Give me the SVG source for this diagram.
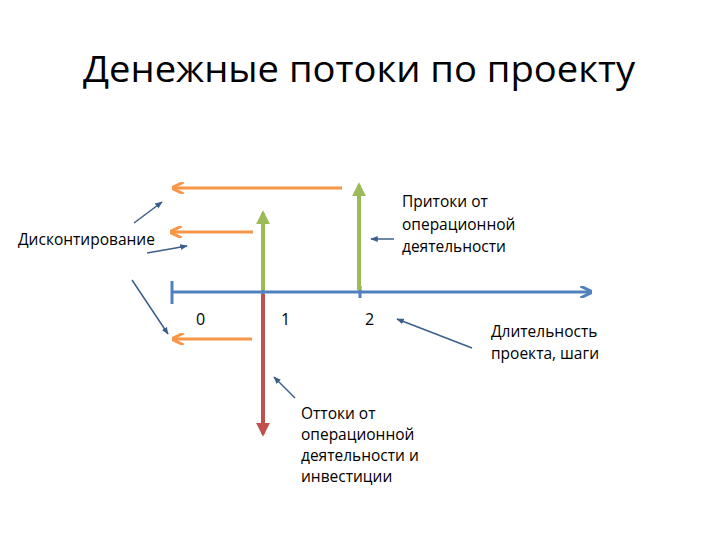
<svg xmlns="http://www.w3.org/2000/svg" width="720" height="540" viewBox="0 0 720 540">
<defs>
<style>
.t{font-family:"Open Sans","Liberation Sans",sans-serif;fill:#000}
.lbl{font-size:15.5px}
.o{stroke:#F79646;stroke-width:3;fill:none}
.g{stroke:#9BBB59;stroke-width:4;fill:none}
.r{stroke:#C0504D;stroke-width:4;fill:none}
.b{stroke:#4F81BD;stroke-width:3;fill:none}
.p{stroke:#3B5F8A;stroke-width:1.5;fill:none}
</style>
<marker id="ao" viewBox="0 0 10 10" refX="8" refY="5" markerWidth="4" markerHeight="4" orient="auto" markerUnits="strokeWidth"><path d="M0,0 L10,5 L0,10" fill="none" stroke="#F79646" stroke-width="2.5"/></marker>
<marker id="ag" viewBox="0 0 10 10" refX="8" refY="5" markerWidth="3.5" markerHeight="3.5" orient="auto" markerUnits="strokeWidth"><path d="M0,0 L10,5 L0,10 Z" fill="#9BBB59"/></marker>
<marker id="ar" viewBox="0 0 10 10" refX="8" refY="5" markerWidth="3.5" markerHeight="3.5" orient="auto" markerUnits="strokeWidth"><path d="M0,0 L10,5 L0,10 Z" fill="#C0504D"/></marker>
<marker id="ab" viewBox="0 0 10 10" refX="8" refY="5" markerWidth="4" markerHeight="4" orient="auto" markerUnits="strokeWidth"><path d="M0,0 L10,5 L0,10" fill="none" stroke="#4F81BD" stroke-width="2.5"/></marker>
<marker id="ap" viewBox="0 0 10 10" refX="9" refY="5" markerWidth="5" markerHeight="5" orient="auto" markerUnits="strokeWidth"><path d="M0,1 L10,5 L0,9 Z" fill="#3B5F8A"/></marker>
</defs>
<rect width="720" height="540" fill="#fff"/>
<text class="t" x="359" y="82" font-size="37" text-anchor="middle" textLength="552" lengthAdjust="spacingAndGlyphs">Денежные потоки по проекту</text>
<g id="connectors">
<line class="o" x1="342" y1="188" x2="174" y2="188" marker-end="url(#ao)"/>
<line class="o" x1="253" y1="232" x2="172" y2="232" marker-end="url(#ao)"/>
<line class="o" x1="252" y1="339" x2="174" y2="339" marker-end="url(#ao)"/>
<line class="b" x1="172" y1="292" x2="590" y2="292" marker-end="url(#ab)"/>
<line class="b" x1="172" y1="281" x2="172" y2="304"/>
<line class="b" x1="263" y1="286" x2="263" y2="298"/>
<line class="b" x1="360" y1="286" x2="360" y2="298"/>
<line class="g" x1="263" y1="290" x2="263" y2="213" marker-end="url(#ag)"/>
<line class="g" x1="359" y1="290" x2="359" y2="185" marker-end="url(#ag)"/>
<line class="r" x1="263" y1="294" x2="263" y2="434" marker-end="url(#ar)"/>
<line class="p" x1="134" y1="223" x2="162" y2="202" marker-end="url(#ap)"/>
<line class="p" x1="147" y1="253" x2="187" y2="246" marker-end="url(#ap)"/>
<line class="p" x1="132" y1="280" x2="168" y2="334" marker-end="url(#ap)"/>
<line class="p" x1="394" y1="239" x2="371" y2="239" marker-end="url(#ap)"/>
<line class="p" x1="472" y1="348" x2="397" y2="319" marker-end="url(#ap)"/>
<line class="p" x1="295" y1="398" x2="274" y2="377" marker-end="url(#ap)"/>
</g>
<g id="discount"><text class="t lbl" x="18" y="245">Дисконтирование</text></g>
<g id="inflows"><text class="t lbl" x="402" y="207">Притоки от<tspan x="402" dy="22.5">операционной</tspan><tspan x="402" dy="22.5">деятельности</tspan></text></g>
<g id="ticks">
<text class="t" x="196" y="325" font-size="16">0</text>
<text class="t" x="281" y="325" font-size="16">1</text>
<text class="t" x="365" y="325" font-size="16">2</text>
</g>
<g id="duration"><text class="t lbl" x="491" y="337">Длительность<tspan x="491" dy="21.5">проекта, шаги</tspan></text></g>
<g id="outflows"><text class="t lbl" x="301" y="419">Оттоки от<tspan x="301" dy="21">операционной</tspan><tspan x="301" dy="21">деятельности и</tspan><tspan x="301" dy="21">инвестиции</tspan></text></g>
</svg>
